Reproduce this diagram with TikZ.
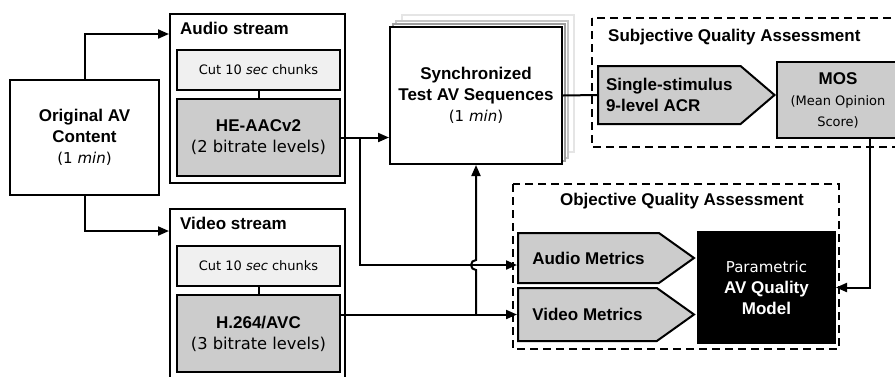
\documentclass[tikz,border=0pt]{standalone}
\usepackage{fontspec}
\setmainfont{Liberation Sans}
\newfontfamily\dejavu{DejaVu Sans}
\usetikzlibrary{arrows.meta,shapes.symbols,calc}

% text sizes
\newcommand\bigb{\bfseries\fontsize{17}{21}\selectfont}
\newcommand\midtxt{\dejavu\mdseries\fontsize{15}{21}\selectfont}
\newcommand\ratetxt{\dejavu\mdseries\fontsize{16.3}{22}\selectfont}
\newcommand\smalltxt{\dejavu\mdseries\fontsize{13}{19}\selectfont}

\tikzset{
  block/.style={draw, line width=2pt, align=center, inner sep=0pt},
  stream/.style={block, minimum width=175pt},
  chunk/.style={block, fill=gray!12, minimum width=163pt, minimum height=40pt, font=\smalltxt},
  codec/.style={block, fill=gray!40, minimum width=163pt, minimum height=77pt, font=\bigb},
  metric/.style={block, fill=gray!40, signal, signal to=east, align=left, font=\bigb,
    anchor=west, inner xsep=8pt},
  group/.style={draw, line width=2pt, dash pattern=on 8pt off 5pt},
  title/.style={font=\bigb, inner sep=0pt},
  link/.style={line width=2pt},
}

\begin{document}
\begin{tikzpicture}[x=1pt, y=-1pt, >={Triangle[length=11pt,width=9pt]}]
\useasboundingbox (0,0) rectangle (895,376);
\clip (0,0) rectangle (895,376);

% source content
\node[block, minimum width=149pt, minimum height=115pt, font=\bigb] (orig) at (84.5,137.5)
  {Original AV\\Content\\{\midtxt(1 \textit{min})}};

% audio stream
\node[stream, minimum height=169pt] (astream) at (257.5,98.5) {};
\node[title, anchor=west] (atitle) at (180,28) {Audio stream};
\node[chunk] (acut) at (258.5,70) {Cut 10 \textit{sec} chunks};
\node[codec] (aenc) at (258.5,137.5) {HE-AACv2\\{\ratetxt(2 bitrate levels)}};
\draw[link] (acut) -- (aenc);

% video stream
\node[stream, minimum height=176pt] (vstream) at (257.5,297) {};
\node[title, anchor=west] (vtitle) at (180,223) {Video stream};
\node[chunk] (vcut) at (258.5,266) {Cut 10 \textit{sec} chunks};
\node[codec] (venc) at (258.5,333.5) {H.264/AVC\\{\ratetxt(3 bitrate levels)}};
\draw[link] (vcut) -- (venc);

% stacked test sequences
\foreach \d/\c in {12/gray!20, 6/gray!45, 3/gray!75}
  \draw[\c, line width=1.2pt, fill=white] (390+\d,27-\d) rectangle (562+\d,164-\d);
\node[block, fill=white, minimum width=172pt, minimum height=137pt, font=\bigb] (sync) at (476,95.5)
  {Synchronized\\Test AV Sequences\\{\midtxt(1 \textit{min})}};

% subjective part
\draw[group] (592,18) rectangle (905,147);
\node[title, anchor=west] (stitle) at (608,37) {Subjective Quality Assessment};
\node[metric, minimum width=175pt, minimum height=58pt, signal pointer angle=81] (acr) at (597,95)
  {Single-stimulus\\9-level ACR};
\node[block, fill=gray!40, minimum width=122pt, minimum height=76pt, font=\bigb] (mos) at (838,100)
  {MOS\\{\smalltxt(Mean Opinion}\\{\smalltxt Score)}};

% objective part
\draw[group] (513,184) rectangle (839,349);
\node[title] (otitle) at (682,201) {Objective Quality Assessment};
\node[metric, minimum width=176pt, minimum height=50pt, signal pointer angle=71] (amet) at (517,258)
  {Audio Metrics};
\node[metric, minimum width=176pt, minimum height=53pt, signal pointer angle=71] (vmet) at (517,314.5)
  {Video Metrics};
\node[block, fill=black, text=white, minimum width=137pt, minimum height=111pt, font=\bigb] (model)
  at (766.5,287.5) {{\midtxt Parametric}\\AV Quality\\Model};

% connections
\draw[link,->] (orig.north) |- ([yshift=-21pt]astream.north west);
\draw[link,->] (orig.south) |- ([yshift=-23pt]vstream.north west);
\draw[link,->] (aenc.east) -- (aenc.east -| sync.west);
\coordinate (abr) at ($(aenc.east)+(19,0)$);
\coordinate (hop) at ([yshift=-7pt]amet.west -| sync.south);
\draw[link,->] (abr) |- ([yshift=-7pt]amet.west);
\draw[link,->] (venc.east |- vmet.west) -- (vmet.west);
\draw[link,->] (sync.south |- vmet.west) -- ([yshift=-5pt]hop)
  arc[start angle=270, end angle=90, radius=5pt] -- (sync.south);
\draw[link] (sync.east) -- (acr.west);
\draw[link,->] ([xshift=32pt]mos.south) |- (model.east);
\end{tikzpicture}
\end{document}
